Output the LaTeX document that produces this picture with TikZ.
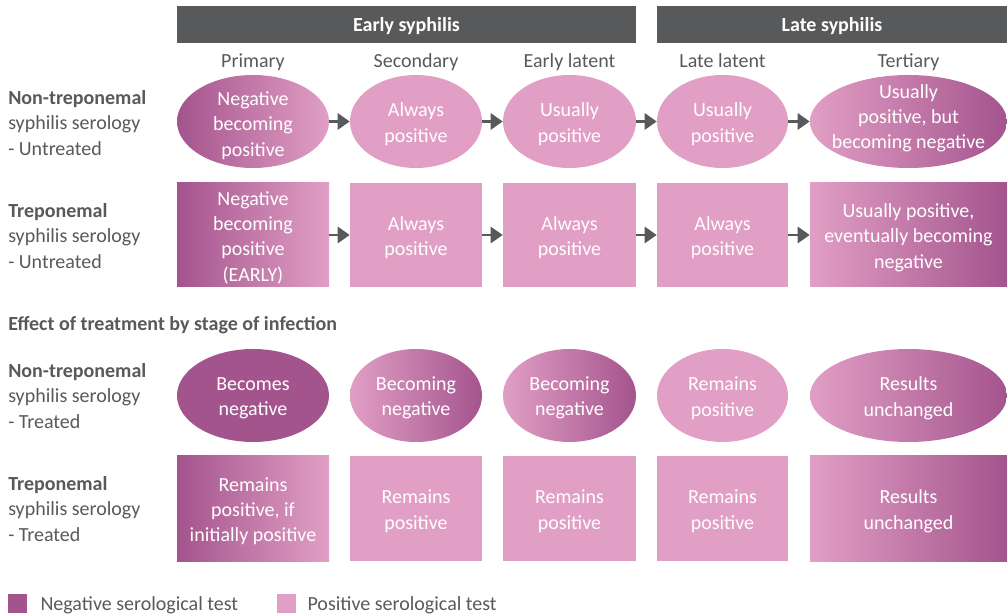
\documentclass[tikz,border=0pt]{standalone}
\usepackage{fontspec}
\setmainfont{Carlito}
\usepackage{tikz}
\usetikzlibrary{arrows.meta}
\usetikzlibrary{positioning,shapes.geometric}
\definecolor{negpink}{HTML}{A4548D}
\definecolor{pospink}{HTML}{E19FC5}
\definecolor{bargray}{HTML}{58595B}
\def\px{0.75pt}
\tikzset{
    headbar/.style={
        fill=bargray,
        text=white,
        minimum height=37*\px,
        inner sep=0pt,
        text height=14pt,
        text depth=3pt,
        font=\fontsize{15}{18}\selectfont\bfseries
    },
    stagelabel/.style={
        text=bargray,
        inner sep=0pt,
        text height=14pt,
        text depth=3pt,
        font=\fontsize{15}{18}\selectfont
    },
    rowlabel/.style={
        text=bargray,
        anchor=west,
        align=left,
        inner sep=0pt,
        font=\fontsize{15}{18.8}\selectfont
    },
    oval/.style={
        ellipse,
        inner sep=0pt,
        minimum height=93*\px
    },
    cellbox/.style={
        rectangle,
        inner sep=0pt
    },
    celltext/.style={
        text=white,
        align=center,
        inner sep=0pt,
        yshift=-2pt,
        font=\fontsize{15}{19}\selectfont
    },
    negfill/.style={fill=negpink},
    posfill/.style={fill=pospink},
    negpos/.style={left color=negpink, right color=pospink},
    posneg/.style={left color=pospink, right color=negpink},
    flowarrow/.style={
        draw=bargray,
        line width=2.2pt,
        -{Triangle[length=9pt, width=12pt]}
    },
    legsq/.style={minimum size=19*\px, inner sep=0pt}
}

\begin{document}
\begin{tikzpicture}[x=0.75pt, y=-0.75pt]
  \useasboundingbox (0,0) rectangle (1007,616);

  % stage headers
  \node[headbar, minimum width=459*\px] (early) at (406.5,24.5) {Early syphilis};
  \node[headbar, minimum width=350*\px] (late) at (832,24.5) {Late syphilis};

  \foreach \cx/\st [count=\i] in {253/Primary, 416/Secondary, 569.5/Early latent, 722.5/Late latent, 908.5/Tertiary} {
    \node[stagelabel] (stage\i) at (\cx,60) {\st};
  }

  % row labels
  \node[rowlabel] (lab1) at (8,123) {\textbf{Non-treponemal}\\syphilis serology\\- Untreated};
  \node[rowlabel] (lab2) at (8,236) {\textbf{Treponemal}\\syphilis serology\\- Untreated};
  \node[rowlabel] (lab3) at (8,396) {\textbf{Non-treponemal}\\syphilis serology\\- Treated};
  \node[rowlabel] (lab4) at (8,509) {\textbf{Treponemal}\\syphilis serology\\- Treated};
  \node[rowlabel] (effect) at (8,325.5) {\textbf{Effect of treatment by stage of infection}};

  % non-treponemal, untreated
  \node[oval, negpos, minimum width=152*\px] (nu1) at (253,121.5) {};
  \node[oval, posfill, minimum width=132*\px] (nu2) at (416,121.5) {};
  \node[oval, posfill, minimum width=133*\px] (nu3) at (569.5,121.5) {};
  \node[oval, posfill, minimum width=131*\px] (nu4) at (722.5,121.5) {};
  \node[oval, posneg, minimum width=197*\px] (nu5) at (908.5,121.5) {};
  \node[celltext] (nu1t) at (253,123) {Negative\\becoming\\positive};
  \node[celltext] (nu2t) at (nu2) {Always\\positive};
  \node[celltext] (nu3t) at (nu3) {Usually\\positive};
  \node[celltext] (nu4t) at (nu4) {Usually\\positive};
  \node[celltext] (nu5t) at (908.5,115.5) {Usually\\positive, but\\becoming negative};

  % treponemal, untreated
  \node[cellbox, negpos, minimum width=152*\px, minimum height=104*\px] (tu1) at (253,235) {};
  \node[cellbox, posfill, minimum width=132*\px, minimum height=104*\px] (tu2) at (416,235) {};
  \node[cellbox, posfill, minimum width=133*\px, minimum height=104*\px] (tu3) at (569.5,235) {};
  \node[cellbox, posfill, minimum width=131*\px, minimum height=104*\px] (tu4) at (722.5,235) {};
  \node[cellbox, posneg, minimum width=197*\px, minimum height=104*\px] (tu5) at (908.5,235) {};
  \node[celltext] (tu1t) at (tu1) {Negative\\becoming\\positive\\(EARLY)};
  \node[celltext] (tu2t) at (tu2) {Always\\positive};
  \node[celltext] (tu3t) at (tu3) {Always\\positive};
  \node[celltext] (tu4t) at (tu4) {Always\\positive};
  \node[celltext] (tu5t) at (tu5) {Usually positive,\\eventually becoming\\negative};

  % non-treponemal, treated
  \node[oval, negfill, minimum width=152*\px] (nt1) at (253,395.5) {};
  \node[oval, posneg, minimum width=132*\px] (nt2) at (416,395.5) {};
  \node[oval, posneg, minimum width=133*\px] (nt3) at (569.5,395.5) {};
  \node[oval, posfill, minimum width=131*\px] (nt4) at (722.5,395.5) {};
  \node[oval, posneg, minimum width=197*\px] (nt5) at (908.5,395.5) {};
  \node[celltext] (nt1t) at (nt1) {Becomes\\negative};
  \node[celltext] (nt2t) at (nt2) {Becoming\\negative};
  \node[celltext] (nt3t) at (nt3) {Becoming\\negative};
  \node[celltext] (nt4t) at (nt4) {Remains\\positive};
  \node[celltext] (nt5t) at (nt5) {Results\\unchanged};

  % treponemal, treated
  \node[cellbox, negpos, minimum width=152*\px, minimum height=105*\px] (tt1) at (253,508.5) {};
  \node[cellbox, posfill, minimum width=132*\px, minimum height=105*\px] (tt2) at (416,508.5) {};
  \node[cellbox, posfill, minimum width=133*\px, minimum height=105*\px] (tt3) at (569.5,508.5) {};
  \node[cellbox, posfill, minimum width=131*\px, minimum height=105*\px] (tt4) at (722.5,508.5) {};
  \node[cellbox, posneg, minimum width=197*\px, minimum height=105*\px] (tt5) at (908.5,508.5) {};
  \node[celltext] (tt1t) at (tt1) {Remains\\positive, if\\initially positive};
  \node[celltext] (tt2t) at (tt2) {Remains\\positive};
  \node[celltext] (tt3t) at (tt3) {Remains\\positive};
  \node[celltext] (tt4t) at (tt4) {Remains\\positive};
  \node[celltext] (tt5t) at (tt5) {Results\\unchanged};

  % progression arrows
  \foreach \i [evaluate=\i as \j using int(\i+1)] in {1,...,4} {
    \draw[flowarrow] (nu\i) -- (nu\j);
    \draw[flowarrow] (tu\i) -- (tu\j);
  }

  % legend
  \node[legsq, fill=negpink] (legneg) at (17.5,603.5) {};
  \node[stagelabel, right=9.75pt of legneg] (legnegt) {Negative serological test};
  \node[legsq, fill=pospink] (legpos) at (286.5,603.5) {};
  \node[stagelabel, right=8.25pt of legpos] (legpost) {Positive serological test};
\end{tikzpicture}
\end{document}
